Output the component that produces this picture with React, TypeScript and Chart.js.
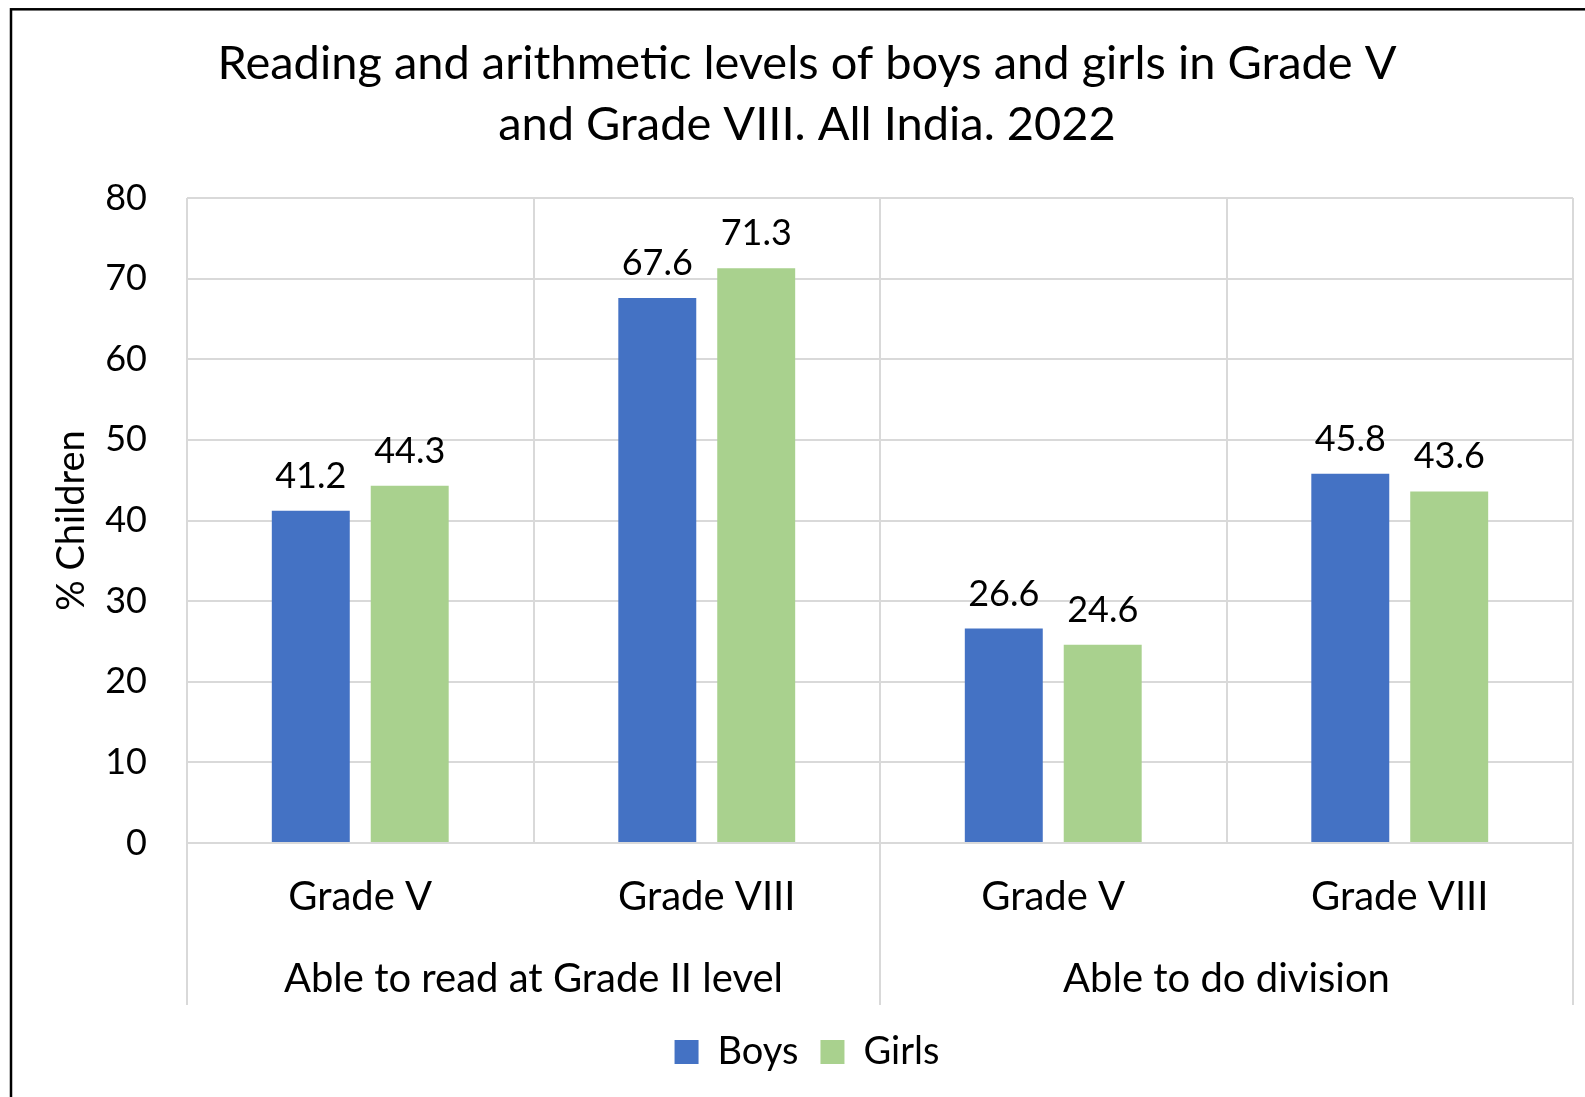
import React, { useEffect, useRef } from 'react';
import { Chart, registerables } from 'chart.js';

Chart.register(...registerables);

const titleLines = [
  'Reading and arithmetic levels of boys and girls in Grade V',
  'and Grade VIII. All India. 2022',
];
const gradeLabels = ['Grade V', 'Grade VIII', 'Grade V', 'Grade VIII'];
const skillLabels = ['Able to read at Grade II level', 'Able to do division'];
const seriesNames = ['Boys', 'Girls'];
const boysValues = [41.2, 67.6, 26.6, 45.8];
const girlsValues = [44.3, 71.3, 24.6, 43.6];
const yAxisTitle = '% Children';
const yMin = 0;
const yMax = 80;
const yStep = 10;

const FONT = 'Lato';
const GRID = '#D9D9D9';
const BLUE = '#4472C4';
const GREEN = '#A9D18E';

const W = 1614;
const H = 1097;

const frame = {
  id: 'frame',
  beforeDraw(chart: any) {
    const { ctx } = chart;
    ctx.save();
    ctx.fillStyle = '#fff';
    ctx.fillRect(0, 0, chart.width, chart.height);
    ctx.strokeStyle = '#000';
    ctx.lineWidth = 2.5;
    ctx.strokeRect(11, 9.3, 1640, 1200);
    ctx.restore();
  },
};

const valueLabels = {
  id: 'valueLabels',
  afterDatasetsDraw(chart: any) {
    const { ctx } = chart;
    ctx.save();
    ctx.font = `36px ${FONT}`;
    ctx.fillStyle = '#000';
    ctx.textAlign = 'center';
    ctx.textBaseline = 'alphabetic';
    chart.data.datasets.forEach((ds: any, di: number) => {
      const meta = chart.getDatasetMeta(di);
      meta.data.forEach((bar: any, i: number) => {
        ctx.fillText(ds.data[i].toFixed(1), bar.x, bar.y - 23);
      });
    });
    ctx.restore();
  },
};

export default function App() {
  const ref = useRef<HTMLCanvasElement | null>(null);

  useEffect(() => {
    if (!ref.current) return;
    const chart = new Chart(ref.current, {
      type: 'bar',
      data: {
        labels: gradeLabels,
        datasets: [
          {
            label: seriesNames[0],
            data: boysValues,
            backgroundColor: BLUE,
            borderWidth: 0,
            categoryPercentage: 0.571,
            barPercentage: 0.788,
          },
          {
            label: seriesNames[1],
            data: girlsValues,
            backgroundColor: GREEN,
            borderWidth: 0,
            categoryPercentage: 0.571,
            barPercentage: 0.788,
          },
        ],
      },
      options: {
        responsive: false,
        animation: false,
        layout: { padding: { left: 41, right: 41, top: 0, bottom: 16 } },
        plugins: {
          title: {
            display: true,
            text: titleLines,
            color: '#000',
            font: { family: FONT, size: 47, weight: 'normal', lineHeight: 61 / 47 },
            padding: { top: 33, bottom: 43 },
          },
          legend: {
            display: true,
            position: 'bottom',
            labels: {
              color: '#000',
              font: { family: FONT, size: 38 },
              boxWidth: 24,
              boxHeight: 24,
              padding: 22,
            },
          },
          tooltip: { enabled: false },
        },
        scales: {
          x: {
            type: 'category',
            position: 'bottom',
            weight: 0,
            offset: true,
            grid: {
              display: true,
              offset: true,
              color: GRID,
              lineWidth: 2,
              drawOnChartArea: true,
              drawTicks: true,
              tickLength: 80,
              tickColor: (c: any) => (c.index === 1 || c.index === 3 ? 'rgba(0,0,0,0)' : GRID),
              tickWidth: 2,
            },
            border: { display: true, color: GRID, width: 2 },
            ticks: {
              color: '#000',
              font: { family: FONT, size: 40 },
              padding: -49.5,
              autoSkip: false,
              maxRotation: 0,
            },
            afterFit: (s: any) => {
              s.height = 80;
            },
          },
          x2: {
            type: 'category',
            position: 'bottom',
            weight: 1,
            labels: skillLabels,
            offset: true,
            grid: {
              display: true,
              offset: true,
              drawOnChartArea: false,
              drawTicks: true,
              tickLength: 82,
              color: GRID,
              tickColor: GRID,
              tickWidth: 2,
              lineWidth: 2,
            },
            border: { display: false },
            ticks: {
              color: '#000',
              font: { family: FONT, size: 40 },
              padding: -49.5,
              autoSkip: false,
              maxRotation: 0,
            },
            afterFit: (s: any) => {
              s.height = 88;
            },
          },
          y: {
            min: yMin,
            max: yMax,
            ticks: {
              stepSize: yStep,
              color: '#000',
              font: { family: FONT, size: 36 },
              padding: 40,
            },
            grid: { color: GRID, lineWidth: 2, drawTicks: false },
            border: { display: false },
            title: {
              display: true,
              text: yAxisTitle,
              color: '#000',
              font: { family: FONT, size: 38 },
              padding: { top: 8, bottom: 0 },
            },
            afterFit: (s: any) => {
              s.width = 146;
            },
          },
        },
      },
      plugins: [frame, valueLabels],
    } as any);
    return () => chart.destroy();
  }, []);

  return (
    <div
      style={{
        position: 'fixed',
        left: 0,
        top: 0,
        width: 1585,
        height: H,
        overflow: 'hidden',
        background: '#fff',
      }}
    >
      <canvas ref={ref} width={W} height={H} style={{ width: W, height: H, display: 'block' }} />
    </div>
  );
}
